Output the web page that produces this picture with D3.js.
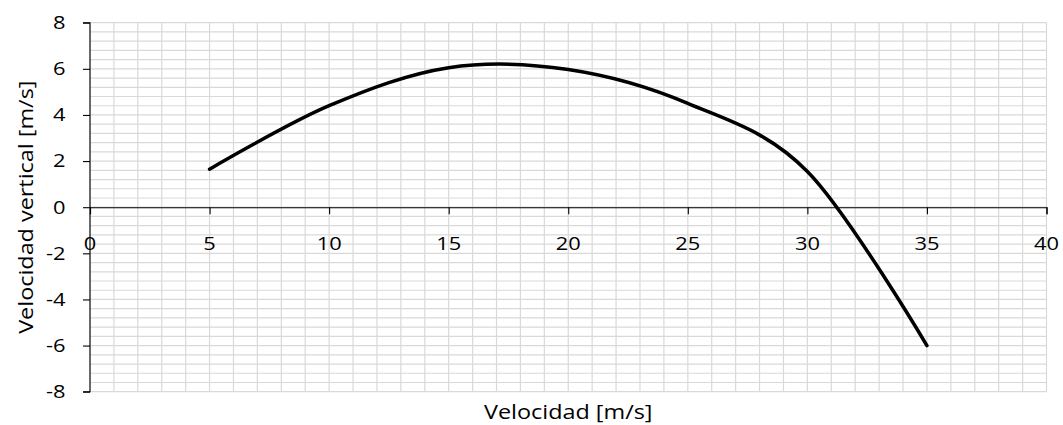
<!DOCTYPE html>
<html>
<head>
<meta charset="utf-8">
<script src="https://cdn.jsdelivr.net/npm/d3@7"></script>
<style>
  html, body { margin: 0; padding: 0; background: #fff; }
  svg { display: block; }
  text { font-family: "Open Sans", "Liberation Sans", sans-serif; fill: #000; }
</style>
</head>
<body>
<svg id="chart" width="1063" height="425"></svg>
<script>
// Horizontal speed (m/s) against vertical speed (m/s)
const speed = [5, 10, 15, 20, 25, 30, 35];
const verticalSpeed = [1.65, 4.4, 6.05, 5.97, 4.5, 1.55, -6.0];

const xTicks = [0, 5, 10, 15, 20, 25, 30, 35, 40];
const yTicks = [-8, -6, -4, -2, 0, 2, 4, 6, 8];

const xTitle = "Velocidad [m/s]";
const yTitle = "Velocidad vertical [m/s]";

const svg = d3.select("#chart");
const plotLeft = 90, plotRight = 1046.5, plotTop = 22.7, plotBottom = 391.7;

// glyphs are drawn a little wider than the font's natural proportions
const tickFont = 17.5, tickStretch = 1.25;
const titleFont = 20, titleStretch = 1.17;

const x = d3.scaleLinear().domain([0, 40]).range([plotLeft, plotRight]);
const y = d3.scaleLinear().domain([-8, 8]).range([plotBottom, plotTop]);

// light grid: every 1 on x, every 0.4 on y
const grid = svg.append("g").attr("stroke", "#d9d9d9").attr("stroke-width", 1.2);
grid.selectAll("line.v").data(d3.range(0, 41, 1)).join("line")
  .attr("class", "v")
  .attr("x1", d => x(d)).attr("x2", d => x(d))
  .attr("y1", plotTop).attr("y2", plotBottom);
grid.selectAll("line.h").data(d3.range(0, 41).map(i => -8 + i * 0.4)).join("line")
  .attr("class", "h")
  .attr("y1", d => y(d)).attr("y2", d => y(d))
  .attr("x1", plotLeft).attr("x2", plotRight);

// vertical axis at x = 0
const yAxis = svg.append("g")
  .attr("transform", `translate(${x(0)},0)`)
  .call(d3.axisLeft(y).tickValues(yTicks).tickSize(7).tickFormat(""));
yAxis.select(".domain").attr("d", `M-7,${y(8)}H0V${y(-8)}H-7`);

// horizontal axis at y = 0
const xAxis = svg.append("g")
  .attr("transform", `translate(0,${y(0)})`)
  .call(d3.axisBottom(x).tickValues(xTicks).tickSize(7).tickSizeOuter(7).tickFormat(""));
svg.selectAll(".domain, .tick line").attr("stroke", "#000").attr("stroke-width", 1.1);

// tick labels
svg.append("g").selectAll("text").data(xTicks).join("text")
  .attr("transform", d => `translate(${x(d)},250) scale(${tickStretch},1)`)
  .attr("text-anchor", "middle").attr("font-size", tickFont)
  .text(d => d);
svg.append("g").selectAll("text").data(yTicks).join("text")
  .attr("transform", d => `translate(65.5,${y(d) + 6.4}) scale(${tickStretch},1)`)
  .attr("text-anchor", "end").attr("font-size", tickFont)
  .text(d => d);

// axis titles
svg.append("text")
  .attr("transform", `translate(${(plotLeft + plotRight) / 2},418.5) scale(${titleStretch},1)`)
  .attr("text-anchor", "middle").attr("font-size", titleFont)
  .text(xTitle);
svg.append("text")
  .attr("transform", `translate(33,${(plotTop + plotBottom) / 2}) rotate(-90) scale(${titleStretch},1)`)
  .attr("text-anchor", "middle").attr("font-size", titleFont)
  .text(yTitle);

// smoothed series line
const line = d3.line()
  .x(d => x(d[0])).y(d => y(d[1]))
  .curve(d3.curveCardinal.tension(0));
svg.append("path")
  .datum(d3.zip(speed, verticalSpeed))
  .attr("fill", "none").attr("stroke", "#000")
  .attr("stroke-width", 3.5).attr("stroke-linecap", "round").attr("stroke-linejoin", "round")
  .attr("d", line);
</script>
</body>
</html>
